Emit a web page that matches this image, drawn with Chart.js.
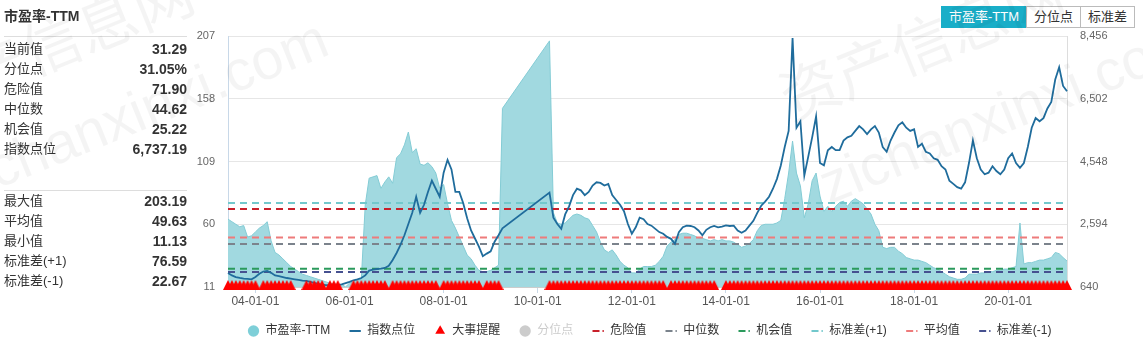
<!DOCTYPE html>
<html lang="zh-CN">
<head>
<meta charset="UTF-8">
<title>市盈率-TTM</title>
<script src="https://cdn.jsdelivr.net/npm/chart.js@4.4.1/dist/chart.umd.min.js"></script>
<style>
  html, body { margin: 0; padding: 0; background: #fff; }
  body { width: 1143px; height: 344px; position: relative; overflow: hidden;
         font-family: "Liberation Sans", "Noto Sans CJK SC", sans-serif; color: #333; }
  #chart { position: absolute; left: 0; top: 0; }
  #panel { position: absolute; left: 4px; top: 0; width: 183px; }
  #panel .title { font-size: 14px; font-weight: bold; height: 36px; line-height: 33px; border-bottom: 1px solid #ddd; }
  #panel .row { height: 20px; line-height: 20px; font-size: 13px; display: flex; justify-content: space-between; }
  #panel .row b { font-size: 14px; }
  #panel .sep { height: 31px; border-bottom: 1px solid #ddd; }
  #tabs { position: absolute; left: 942px; top: 6px; display: flex; font-size: 13px; }
  #tabs span { height: 20px; line-height: 20px; padding: 0 7px; border: 1px solid #bbb; background: #fff; margin-left: -1px; }
  #tabs span.on { background: #19aec8; border-color: #19aec8; color: #fff; }
  .wm { position: absolute; white-space: nowrap; line-height: 1; color: rgba(0,0,0,0.045); transform-origin: 0 0;
        transform: rotate(-22deg); pointer-events: none; font-family: "Liberation Sans", "Noto Sans CJK SC", sans-serif; }
</style>
</head>
<body>
<canvas id="chart" width="1143" height="347"></canvas>
<div id="panel"></div>
<div id="tabs"><span class="on">市盈率-TTM</span><span>分位点</span><span>标准差</span></div>
<div class="wm" style="left:-98px;top:75px;font-size:60px">资产信息网</div>
<div class="wm" style="left:-59px;top:160px;font-size:57px">zichanxinxi.com</div>
<div class="wm" style="left:772px;top:75px;font-size:60px">资产信息网</div>
<div class="wm" style="left:811px;top:160px;font-size:57px">zichanxinxi.com</div>
<script>
// monthly categories, 2003-06 .. 2021-04
const startYear = 2003, startMonth = 6, monthCount = 215;
const months = [];
for (let i = 0; i < monthCount; i++) {
  const m = startMonth - 1 + i;
  const y = startYear + Math.floor(m / 12);
  months.push(String(y % 100).padStart(2, '0') + '-' + String(m % 12 + 1).padStart(2, '0') + '-01');
}

// P/E TTM (left axis); null = no data for that month
const peValues = [
  64, 62, 60, 58, 59, 50, 51, 54, 57, 59,
  62, 47, 38, 36, 33, 30, 27, 25, 23, 21,
  20, 19, 18, 17, 16, 15, 14, 13.5, 13, 13,
  11.13, 14, 15, 16.5, 17, 75, 96, 97, 98, 88,
  93, 97, 92, 112, 115, 122, 132, 116, 119, 107,
  106, 108, 105, 100, 88, 91, 76, 63, 57, 50,
  43, 36, 33, 28, 24, 23, 23, 24, 26, 28,
  150.5, null, null, null, null, null, null, null, null, null,
  null, null, 203.19, 69, 61, 60, 61, 64, 67, 68,
  67, 65, 64, 59, 54, 46, 40, 38, 40, 36,
  31, 28, 26, 22, 22, 25, 27, 27, 27, 28,
  31, 35, 43, 46, 48, 52, 53, 53, 52, 51,
  49, 49, 48, 47, 48, 47, 48, 47, 47, 46,
  44, 42, 43, 45, 48, 55, 59, 60, 60, 60,
  61, 63, 80, 100, 125, 100, 90, 65, 76, 94,
  100, 82, 70, 74, 70, 74, 77, 78, 74, 78,
  80, 78, 76, 72, 68, 60, 55, 42, 41, 42,
  42, 39, 37, 34, 33, 32, 32, 31, 30, 28,
  26, 25, 23, 21, 19, 18, 17, 17, 18, 21,
  21, 21, 22, 22, 23, 23, 24, 24, 25, 25,
  26, 27, 61, 29, 30, 30, 31, 32, 32, 33,
  34, 38, 37, 34, 31.29
];

// index level (right axis)
const indexValues = [
  1078, 1000, 950, 921, 900, 890, 880, 950, 1050, 1120,
  1140, 1080, 1000, 980, 950, 920, 900, 880, 860, 840,
  830, 800, 770, 740, 710, 700, 700, 690, 700, 720,
  760, 800, 850, 880, 920, 1000, 1150, 1180, 1200, 1210,
  1234, 1300, 1480, 1700, 1950, 2250, 2600, 2950, 3450, 2950,
  3200, 3600, 3950, 3700, 3450, 4200, 4600, 4300, 3600, 3600,
  3250, 2780, 2400, 2150, 1900, 1600, 1680, 1750, 2050, 2250,
  2470, null, null, null, null, null, null, null, null, null,
  null, null, 3579, 2800, 2600, 2453, 2900, 3150, 3500, 3700,
  3650, 3500, 3600, 3800, 3900, 3880, 3800, 3850, 3500, 3350,
  3200, 3000, 2600, 2300, 2500, 2800, 2750, 2600, 2550, 2450,
  2350, 2300, 2200, 2140, 1984, 2350, 2500, 2550, 2540, 2500,
  2400, 2250, 2420, 2500, 2540, 2500, 2520, 2560, 2540, 2550,
  2400, 2330, 2400, 2550, 2700, 2950, 3170, 3300, 3450, 3700,
  4000, 4422, 5000, 5500, 8393, 5600, 5800, 4110, 4700, 5300,
  5950, 4500, 4430, 4900, 5000, 4900, 4900, 5200, 5300, 5350,
  5500, 5650, 5550, 5400, 5550, 5650, 5450, 5000, 4850, 5200,
  5450, 5673, 5766, 5600, 5500, 5550, 5000, 5100, 4850, 4800,
  4650, 4600, 4400, 4300, 3950, 3850, 3750, 3703, 3900, 4500,
  5204, 4650, 4300, 4150, 4200, 4400, 4250, 4150, 4300, 4650,
  4800, 4500, 4350, 4500, 5000, 5600, 5900, 5800, 5900, 6200,
  6400, 7100, 7480, 6900, 6737.19
];

// months with major events (inclusive spans)
const eventSpans = [
  ['03-06-01', '04-01-01'], ['04-03-01', '04-10-01'], ['05-02-01', '05-06-01'],
  ['05-08-01', '05-10-01'], ['06-02-01', '06-10-01'], ['06-12-01', '07-11-01'],
  ['08-01-01', '08-10-01'], ['08-12-01', '09-03-01'], ['10-04-01', '12-09-01'],
  ['12-11-01', '13-10-01'], ['14-01-01', '21-04-01']
];

// summary statistics
const currentPE = 31.29, percentile = '31.05%', currentIndex = 6737.19;
const dangerValue = 71.90, medianValue = 44.62, chanceValue = 25.22;
const maxValue = 203.19, meanValue = 49.63, minValue = 11.13;
const stdPlus = 76.59, stdMinus = 22.67;

// axis ticks
const leftTicks = [11, 60, 109, 158, 207];
const rightTicks = [640, 2594, 4548, 6502, 8456];

// left info panel
const fmt2 = v => v.toLocaleString('en-US', { minimumFractionDigits: 2, maximumFractionDigits: 2 });
const topRows = [['当前值', fmt2(currentPE)], ['分位点', percentile], ['危险值', fmt2(dangerValue)],
                 ['中位数', fmt2(medianValue)], ['机会值', fmt2(chanceValue)], ['指数点位', fmt2(currentIndex)]];
const bottomRows = [['最大值', fmt2(maxValue)], ['平均值', fmt2(meanValue)], ['最小值', fmt2(minValue)],
                    ['标准差(+1)', fmt2(stdPlus)], ['标准差(-1)', fmt2(stdMinus)]];
const rowHtml = r => '<div class="row"><span>' + r[0] + '</span><b>' + r[1] + '</b></div>';
document.getElementById('panel').innerHTML =
  '<div class="title">市盈率-TTM</div><div style="height:2px"></div>' +
  topRows.map(rowHtml).join('') +
  '<div class="sep"></div>' +
  bottomRows.map(rowHtml).join('');

// event markers sit on the bottom of the P/E axis
const eventValues = months.map(() => null);
eventSpans.forEach(([a, b]) => {
  for (let i = months.indexOf(a); i <= months.indexOf(b); i++) eventValues[i] = leftTicks[0];
});

// red triangle whose base lies just under the point
const tri = document.createElement('canvas');
tri.width = 10; tri.height = 14;
(function () {
  const c = tri.getContext('2d');
  c.fillStyle = '#ff0000';
  c.beginPath(); c.moveTo(5, 0); c.lineTo(10, 10); c.lineTo(0, 10); c.closePath(); c.fill();
})();

const flat = v => months.map(() => v);
const refLine = (label, value, color) => ({
  label, data: flat(value), borderColor: color, backgroundColor: color,
  borderWidth: 2, borderDash: [7, 5], pointRadius: 0, fill: false, yAxisID: 'y', order: 2,
  legendStyle: { pointStyle: 'line', strokeStyle: color, fillStyle: color, lineWidth: 2, lineDash: [7, 3] }
});

Chart.defaults.font.family = '"Liberation Sans", "Noto Sans CJK SC", sans-serif';

new Chart(document.getElementById('chart'), {
  type: 'line',
  data: {
    labels: months,
    datasets: [
      { label: '市盈率-TTM', data: peValues, yAxisID: 'y', order: 3,
        borderColor: '#84ccd5', borderWidth: 1, backgroundColor: '#a1d9e0',
        fill: 'start', pointRadius: 0, spanGaps: true, tension: 0,
        legendStyle: { pointStyle: 'circle', fillStyle: '#7ecfd8', strokeStyle: '#7ecfd8', lineWidth: 0 } },
      { label: '指数点位', data: indexValues, yAxisID: 'y2', order: 1,
        borderColor: '#1f6c9c', borderWidth: 1.8, pointRadius: 0, fill: false, spanGaps: true,
        legendStyle: { pointStyle: 'line', strokeStyle: '#1f6c9c', fillStyle: '#1f6c9c', lineWidth: 2 } },
      { label: '大事提醒', data: eventValues, yAxisID: 'y', order: 0,
        showLine: false, pointStyle: tri, pointRadius: 5, clip: false,
        legendStyle: { pointStyle: 'triangle', fillStyle: '#ff0000', strokeStyle: '#ff0000', lineWidth: 0 } },
      { label: '分位点', data: [], yAxisID: 'y', hidden: true,
        legendStyle: { pointStyle: 'circle', fillStyle: '#cccccc', strokeStyle: '#cccccc', lineWidth: 0 },
        legendColor: '#cccccc' },
      refLine('危险值', dangerValue, '#c8202a'),
      refLine('中位数', medianValue, '#7b838c'),
      refLine('机会值', chanceValue, '#2b9a5c'),
      refLine('标准差(+1)', stdPlus, '#72c8cc'),
      refLine('平均值', meanValue, '#ee7b7b'),
      refLine('标准差(-1)', stdMinus, '#465190')
    ]
  },
  options: {
    responsive: false,
    animation: false,
    events: [],
    layout: { padding: { left: 156, right: 0, top: 36, bottom: 0 } },
    scales: {
      x: {
        ticks: {
          autoSkip: false, maxRotation: 0, padding: 1, color: '#555', font: { size: 12 },
          callback(value) {
            const lab = this.getLabelForValue(value);
            const yy = parseInt(lab.slice(0, 2), 10);
            return lab.slice(3) === '01-01' && yy % 2 === 0 ? lab : null;
          }
        },
        grid: { drawOnChartArea: false, tickLength: 6, color: '#c9d8e6' },
        border: { color: '#cccccc' },
        afterFit(s) { s.height = 19; }
      },
      y: {
        position: 'left', min: leftTicks[0], max: leftTicks[leftTicks.length - 1],
        afterBuildTicks(s) { s.ticks = leftTicks.map(v => ({ value: v })); },
        ticks: { padding: 13, color: '#666', font: { size: 11 } },
        grid: { color: '#e6e6e6', drawTicks: false },
        border: { color: '#c8d8e8' },
        afterFit(s) { s.width = 72; }
      },
      y2: {
        position: 'right', min: rightTicks[0], max: rightTicks[rightTicks.length - 1],
        afterBuildTicks(s) { s.ticks = rightTicks.map(v => ({ value: v })); },
        ticks: { padding: 13, color: '#666', font: { size: 11 },
                 callback: v => v.toLocaleString('en-US') },
        grid: { drawOnChartArea: false, drawTicks: false },
        border: { color: '#dddddd' },
        afterFit(s) { s.width = 76; }
      }
    },
    plugins: {
      tooltip: { enabled: false },
      legend: {
        position: 'bottom',
        labels: {
          usePointStyle: true, boxWidth: 12, boxHeight: 8, padding: 19,
          color: '#333', font: { size: 12 },
          generateLabels(chart) {
            return chart.data.datasets.map((ds, i) => Object.assign({
              text: ds.label, datasetIndex: i, hidden: false,
              fontColor: ds.legendColor || '#333'
            }, ds.legendStyle));
          }
        }
      }
    }
  }
});
</script>
</body>
</html>
